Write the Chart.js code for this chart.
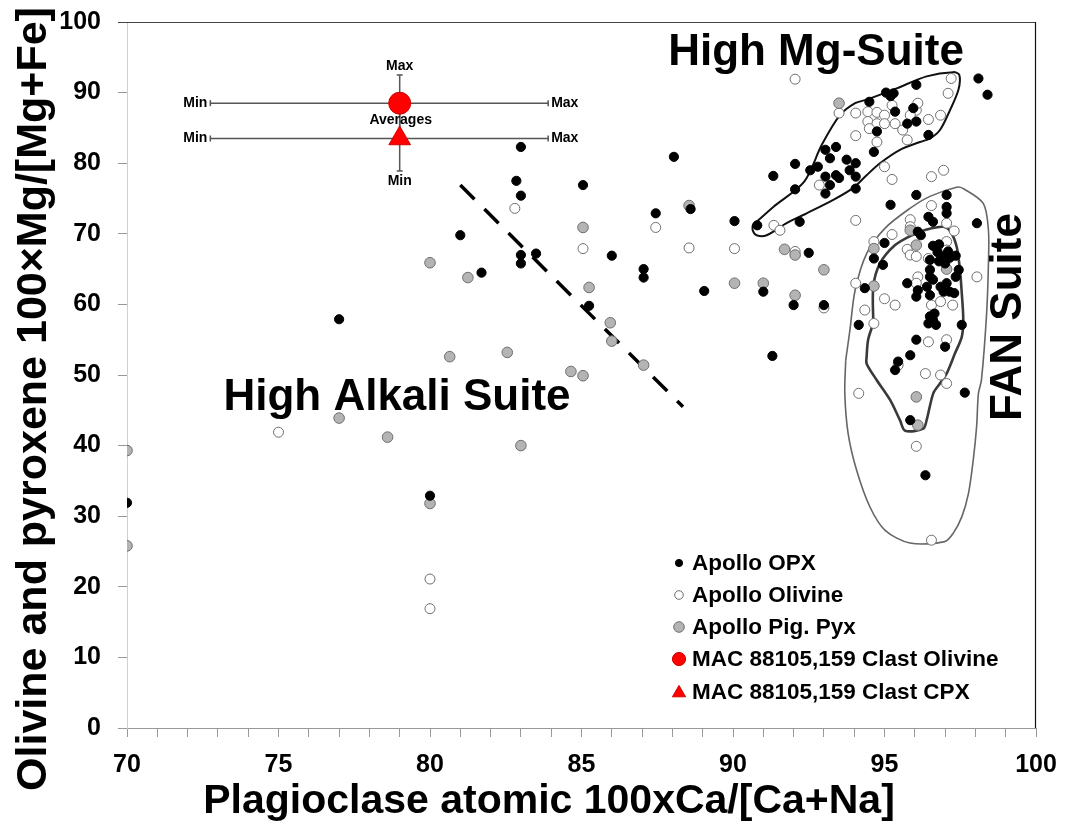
<!DOCTYPE html>
<html><head><meta charset="utf-8">
<script src="https://cdn.jsdelivr.net/npm/chart.js@4.4.1/dist/chart.umd.min.js"></script>
<style>html,body{margin:0;padding:0;background:#fff}#wrap{width:1068px;height:828px}</style>
</head><body><div id="wrap"><canvas id="c" width="1068" height="828"></canvas></div>
<script>
// ---------- data ----------
const xTicks = [70, 75, 80, 85, 90, 95, 100];
const yTicks = [0, 10, 20, 30, 40, 50, 60, 70, 80, 90, 100];

const apolloOPX = [
 [70,31.9],[77,57.9],[80,32.9],[81,69.8],[81.7,64.5],[83,82.3],[82.85,77.5],[83,75.4],[83,67],[83,65.8],[83.5,67.2],
 [85.05,76.9],[88.05,80.9],[86,66.9],[85.25,59.8],[87.05,65],[87.05,63.8],[87.45,72.9],[88.6,73.5],[89.05,61.9],[90.05,71.8],
 [91.3,52.7],[91.0,61.8],[92.0,59.9],[93.0,59.9],
 [91.33,78.2],[92.05,79.9],[92.05,76.3],[92.55,79],[92.8,79.5],[93.05,81.9],[93.4,82.3],[93.2,80.7],[93.05,78.1],[93.4,78.3],
 [93.5,77.9],[93.2,76.9],[93.05,75.7],[93.75,80.5],[93.85,79],[94.05,80],[94.05,78.1],[94.05,76.4],[94.65,81.6],[94.75,84.5],
 [94.5,88.7],[95.05,90],[95.3,89.9],[95.2,89.5],[95.35,87.3],[95.75,85.6],[95.95,87.8],[96.05,91.1],[96.05,85.9],[96.45,84],
 [92.2,71.7],[90.8,71.2],[92.5,67.3],[98.1,92.0],[98.4,89.7],
 [95.2,74.1],[96.05,75.5],[97.05,75.5],[97.05,73.8],[97.05,72.9],[98.05,71.5],[95.0,68.7],[96.45,72.4],[96.6,71.7],[96.1,70.3],
 [96.2,69.8],[96.6,68.3],[96.8,68.5],[96.75,67.4],[97.1,67.5],[94.65,66.5],[94.95,65.6],[96.95,66.8],[97.15,66.6],[96.5,66.3],
 [96.8,66.1],[97.0,65.8],[97.35,66.9],[97.45,64.9],[97.35,63.9],[96.5,64.9],[96.5,63.9],[96.6,63.5],[96.4,62.5],[96.85,62.5],
 [97.05,63],[96.95,61.8],[97.15,61.8],[97.3,61.6],[96.1,62],[96.05,61.1],[95.75,63],[96.5,61.3],[96.5,58.3],[96.65,58.7],
 [96.6,57.8],[96.7,57.1],[96.45,57.3],[97.55,57.1],[96.05,55],[97.0,54],[95.85,52.8],[95.45,51.9],[94.35,62.3],[94.15,57.1],
 [95.35,50.7],[97.65,47.5],[95.85,43.6],[96.35,35.8]
];
const apolloOlivine = [
 [75,41.9],[80,21.1],[80,16.9],[82.8,73.6],[85.05,67.9],[87.45,70.9],[88.55,68],[90.05,67.9],[93,59.5],
 [92.05,91.9],[93.5,87.1],[94.05,87.1],[94.05,83.9],[94.45,87.3],[94.75,87.2],[95.0,86.8],[95.25,88.2],[94.45,85.9],[94.75,85.6],
 [94.5,84.9],[95.0,85.6],[95.35,85.6],[95.6,84.7],[95.75,83.3],[94.75,83],[96.05,87.5],[96.1,88.5],[95.85,86.8],[96.45,86.2],
 [96.85,86.8],[97.1,89.9],[97.2,92],[95.0,79.5],[95.25,77.7],[96.55,78.1],[96.95,79],[92.85,76.9],[94.05,71.9],[91.35,71.2],
 [91.55,70.5],[92.05,67.5],
 [95.85,72],[95.85,71],[96.55,74],[95.25,69.9],[94.65,68.9],[97.05,71.5],[97.3,70.4],[97.05,68.9],[97.05,67.7],[95.75,67.8],
 [95.85,67],[96.05,66.8],[96.45,66.5],[96.1,63.9],[96.05,63],[94.05,63],[95.0,60.8],[95.35,59.9],[94.35,59.2],[94.65,57.3],
 [96.55,59.9],[96.85,60.4],[97.25,59.9],[98.05,63.9],[96.45,54.7],[97.05,55],[95.45,51.4],[96.35,50.2],[96.85,50],[97.05,48.8],
 [94.15,47.4],[96.05,39.9],[96.55,26.6]
];
const apolloPigPyx = [
 [70,39.3],[70,25.8],[77,43.9],[78.6,41.2],[83,40],[80,31.8],[80,65.9],[81.25,63.8],[85.05,70.9],[85.25,62.4],[85.95,57.4],
 [86.0,54.8],[87.05,51.4],[84.65,50.5],[85.05,49.9],[82.55,53.2],[80.65,52.6],[90.05,63],[88.55,74],[91.0,63.0],[92.05,61.3],
 [93.0,64.9],[91.7,67.8],[92.05,67.0],[93.5,88.5],[95.85,70.5],[96.05,68.4],[94.65,67.9],[94.65,62.6],[97.05,65],[96.05,46.9],[96.1,42.9]
];
// MAC 88105,159 clast averages and ranges [avgX, avgY, minX, maxX, minY, maxY]
const clastOlivine = [79, 88.5, 72.75, 83.9, 83.5, 92.5];
const clastCPX     = [79, 83.5, 72.75, 83.9, 78.9, 88.5];

// field outlines
const highMgOutline = [
 [90.65,71.2],[91.33,73.8],[92.35,77.4],[92.93,82.6],[93.53,86.8],[94.03,88.5],[94.41,89.0],[95.4,90.6],[96.39,92.3],[97.27,92.9],
 [97.47,92.5],[97.44,90.4],[97.16,87.5],[96.83,84.7],[96.5,83.5],[96.17,83.0],[95.51,81.9],[94.85,80.0],[94.41,78.3],[93.97,76.5],
 [93.31,74.8],[92.43,72.9],[91.77,71.5],[91.11,69.8],[90.78,69.8],[90.65,70.5],[90.65,71.2]
];
const fanOuterOutline = [
 [93.72,52.1],[93.86,56.4],[94.03,62.0],[94.41,67.2],[95.02,70.8],[95.84,73.6],[96.5,75.3],[97.38,76.6],[97.6,76.4],[98.26,74.3],
 [98.43,70.5],[98.43,65.8],[98.37,58.7],[98.2,49.3],[98.1,47.4],[98.04,42.7],[97.93,38.0],[97.77,33.2],[97.55,29.9],[97.27,27.6],
 [96.99,26.4],[95.84,26.2],[95.02,28.0],[94.52,31.3],[94.08,36.5],[93.8,41.7],[93.69,47.4],[93.72,52.1]
];
const fanInnerOutline = [
 [94.63,57.3],[94.63,62.5],[94.85,65.8],[95.35,68.4],[95.9,69.8],[96.39,70.6],[96.94,71.0],[97.18,70.3],[97.38,68.2],[97.49,64.9],
 [97.55,61.6],[97.6,57.8],[97.55,55.4],[97.33,53.1],[97.05,50.2],[96.83,48.8],[96.61,47.4],[96.39,43.6],[96.28,42.4],[95.68,42.1],
 [95.51,43.6],[95.18,46.5],[94.74,49.3],[94.41,51.6],[94.41,52.6],[94.46,55.0],[94.63,57.3]
];
const divideLine = [[81.0,76.9],[88.35,45.5]];

const legendLabels = ['Apollo OPX','Apollo Olivine','Apollo Pig. Pyx','MAC 88105,159 Clast Olivine','MAC 88105,159 Clast CPX'];

// ---------- helpers ----------
const pts = a => a.map(p => ({x: p[0], y: p[1]}));
const FONT = 'Liberation Sans, Arial, sans-serif';
const GREY_EDGE = '#6e6e6e';

function outline(data, color, width) {
  return {type:'scatter', data: pts(data), showLine:true, borderColor:color, borderWidth:width,
          pointRadius:0, tension:0.3, fill:false, order:10};
}
function errLine(a, b, rads, rot) {
  return {type:'scatter', data: pts([a,b]), showLine:true, borderColor:'#555', borderWidth:1.5,
          pointStyle:'line', rotation:rot, pointRadius:rads, pointBorderColor:'#555', pointBorderWidth:1.5, order:8};
}

const datasets = [
  outline(highMgOutline, '#111', 2),
  outline(fanOuterOutline, '#666', 1.6),
  outline(fanInnerOutline, '#3a3a3a', 2.6),
  {type:'scatter', data: pts(divideLine), showLine:true, borderColor:'#000', borderWidth:3.5, borderDash:[20,14],
   pointRadius:0, order:9},
  errLine([clastOlivine[2], clastOlivine[1]], [clastOlivine[3], clastOlivine[1]], 3, 90),
  errLine([clastCPX[2], clastCPX[1]], [clastCPX[3], clastCPX[1]], 3, 90),
  errLine([clastOlivine[0], clastOlivine[5]], [clastOlivine[0], clastOlivine[4]], [3,0], 0),
  errLine([clastCPX[0], clastCPX[5]], [clastCPX[0], clastCPX[4]], [0,3], 0),
  {label:legendLabels[1], data: pts(apolloOlivine), backgroundColor:'#fff', borderColor:GREY_EDGE, borderWidth:1, pointRadius:5, order:4},
  {label:legendLabels[2], data: pts(apolloPigPyx), backgroundColor:'#b4b4b4', borderColor:GREY_EDGE, borderWidth:1, pointRadius:5.3, order:3},
  {label:legendLabels[0], data: pts(apolloOPX), backgroundColor:'#000', borderColor:'#000', borderWidth:1, pointRadius:4.6, order:2},
  {label:legendLabels[3], data: pts([[clastOlivine[0], clastOlivine[1]]]), backgroundColor:'#ff0000', borderColor:'#d00000', borderWidth:1, pointRadius:11, order:1},
  {label:legendLabels[4], data: pts([[clastCPX[0], clastCPX[1]]]), pointStyle:'triangle', backgroundColor:'#ff0000', borderColor:'#d00000', borderWidth:1, pointRadius:12.5, order:0}
];

function marker(ctx, style, x, y, r, fill, stroke) {
  ctx.save();
  ctx.fillStyle = fill; ctx.strokeStyle = stroke; ctx.lineWidth = 1;
  ctx.beginPath();
  if (style === 'triangle') {
    ctx.moveTo(x, y - r);
    ctx.lineTo(x + r * Math.sqrt(3) / 2, y + r / 2);
    ctx.lineTo(x - r * Math.sqrt(3) / 2, y + r / 2);
    ctx.closePath();
  } else {
    ctx.arc(x, y, r, 0, Math.PI * 2);
  }
  ctx.fill(); ctx.stroke();
  ctx.restore();
}

const textPlugin = {
  id: 'texts',
  afterDraw(chart) {
    const ctx = chart.ctx, xs = chart.scales.x, ys = chart.scales.y, ca = chart.chartArea;
    ctx.save();
    // frame top and right
    ctx.strokeStyle = '#444'; ctx.lineWidth = 1.2;
    ctx.beginPath(); ctx.moveTo(ca.left - 9, ca.top + 0.5); ctx.lineTo(ca.right, ca.top + 0.5); ctx.stroke();
    ctx.strokeStyle = '#111';
    ctx.beginPath(); ctx.moveTo(ca.right - 0.5, ca.top); ctx.lineTo(ca.right - 0.5, ca.bottom); ctx.stroke();

    ctx.fillStyle = '#000';
    // axis titles
    ctx.font = 'bold 41px ' + FONT;
    ctx.textAlign = 'center'; ctx.textBaseline = 'alphabetic';
    ctx.fillText('Plagioclase atomic 100xCa/[Ca+Na]', 549, 813);
    ctx.save();
    ctx.translate(46, 399); ctx.rotate(-Math.PI / 2);
    ctx.font = 'bold 43px ' + FONT;
    ctx.fillText('Olivine and pyroxene 100\u00d7Mg/[Mg+Fe]', 0, 0);
    ctx.restore();

    // field annotations
    ctx.font = 'bold 44px ' + FONT;
    ctx.fillText('High Mg-Suite', 816, 65);
    ctx.fillText('High Alkali Suite', 397, 410);
    ctx.save();
    ctx.translate(1021, 317); ctx.rotate(-Math.PI / 2);
    ctx.fillText('FAN Suite', 0, 0);
    ctx.restore();

    // error bar labels
    ctx.font = 'bold 14px ' + FONT;
    const ax = xs.getPixelForValue(clastOlivine[0]);
    ctx.textBaseline = 'middle';
    ctx.textAlign = 'right';
    ctx.fillText('Min', xs.getPixelForValue(clastOlivine[2]) - 3, ys.getPixelForValue(clastOlivine[1]));
    ctx.fillText('Min', xs.getPixelForValue(clastCPX[2]) - 3, ys.getPixelForValue(clastCPX[1]));
    ctx.textAlign = 'left';
    ctx.fillText('Max', xs.getPixelForValue(clastOlivine[3]) + 3, ys.getPixelForValue(clastOlivine[1]));
    ctx.fillText('Max', xs.getPixelForValue(clastCPX[3]) + 3, ys.getPixelForValue(clastCPX[1]));
    ctx.textAlign = 'center';
    ctx.fillText('Max', ax, ys.getPixelForValue(clastOlivine[5]) - 9);
    ctx.fillText('Min', ax, ys.getPixelForValue(clastCPX[4]) + 10);
    ctx.fillText('Averages', ax + 1, ys.getPixelForValue((clastOlivine[1] + clastCPX[1]) / 2) - 1);

    // legend
    const lx = 679, tx = 692, rows = [563, 595, 627, 659, 692];
    const styles = [
      ['circle', 3.6, '#000', '#000'],
      ['circle', 4.3, '#fff', GREY_EDGE],
      ['circle', 5.3, '#b4b4b4', GREY_EDGE],
      ['circle', 6.6, '#ff0000', '#d00000'],
      ['triangle', 7.6, '#ff0000', '#d00000']
    ];
    ctx.font = 'bold 22.5px ' + FONT;
    ctx.textAlign = 'left'; ctx.textBaseline = 'middle';
    legendLabels.forEach((t, i) => {
      const s = styles[i];
      marker(ctx, s[0], lx, rows[i] + (s[0] === 'triangle' ? 1 : 0), s[1], s[2], s[3]);
      ctx.fillStyle = '#000';
      ctx.fillText(t, tx, rows[i] + 1);
    });
    ctx.restore();
  }
};

function zeroPad(s) { s.paddingTop = 0; s.paddingBottom = 0; s.paddingLeft = 0; s.paddingRight = 0; }

new Chart(document.getElementById('c'), {
  type: 'scatter',
  data: { datasets },
  options: {
    responsive: false, animation: false, devicePixelRatio: 1,
    layout: { padding: { top: 22, right: 32, left: 0, bottom: 0 } },
    plugins: { legend: { display: false }, tooltip: { enabled: false } },
    scales: {
      x: {
        type: 'linear', min: 70, max: 100,
        afterFit: s => { s.height = 100; zeroPad(s); },
        ticks: { stepSize: 1, autoSkip: false, maxRotation: 0, padding: 13, color: '#000',
                 font: { family: FONT, weight: 'bold', size: 25 },
                 callback: v => xTicks.includes(v) ? String(v) : '' },
        grid: { drawOnChartArea: false, drawTicks: true, tickLength: 9, tickColor: '#999', lineWidth: 1 },
        border: { display: true, color: '#999', width: 1 }
      },
      y: {
        type: 'linear', min: 0, max: 100,
        afterFit: s => { s.width = 127; zeroPad(s); },
        afterBuildTicks: s => { s.ticks = yTicks.map(v => ({value: v})); },
        ticks: { padding: 17, color: '#000', font: { family: FONT, weight: 'bold', size: 25 } },
        grid: { drawOnChartArea: false, drawTicks: true, tickLength: 9, tickColor: '#999', lineWidth: 1 },
        border: { display: true, color: '#cfcfcf', width: 1 }
      }
    }
  },
  plugins: [textPlugin]
});
</script>
</body></html>
